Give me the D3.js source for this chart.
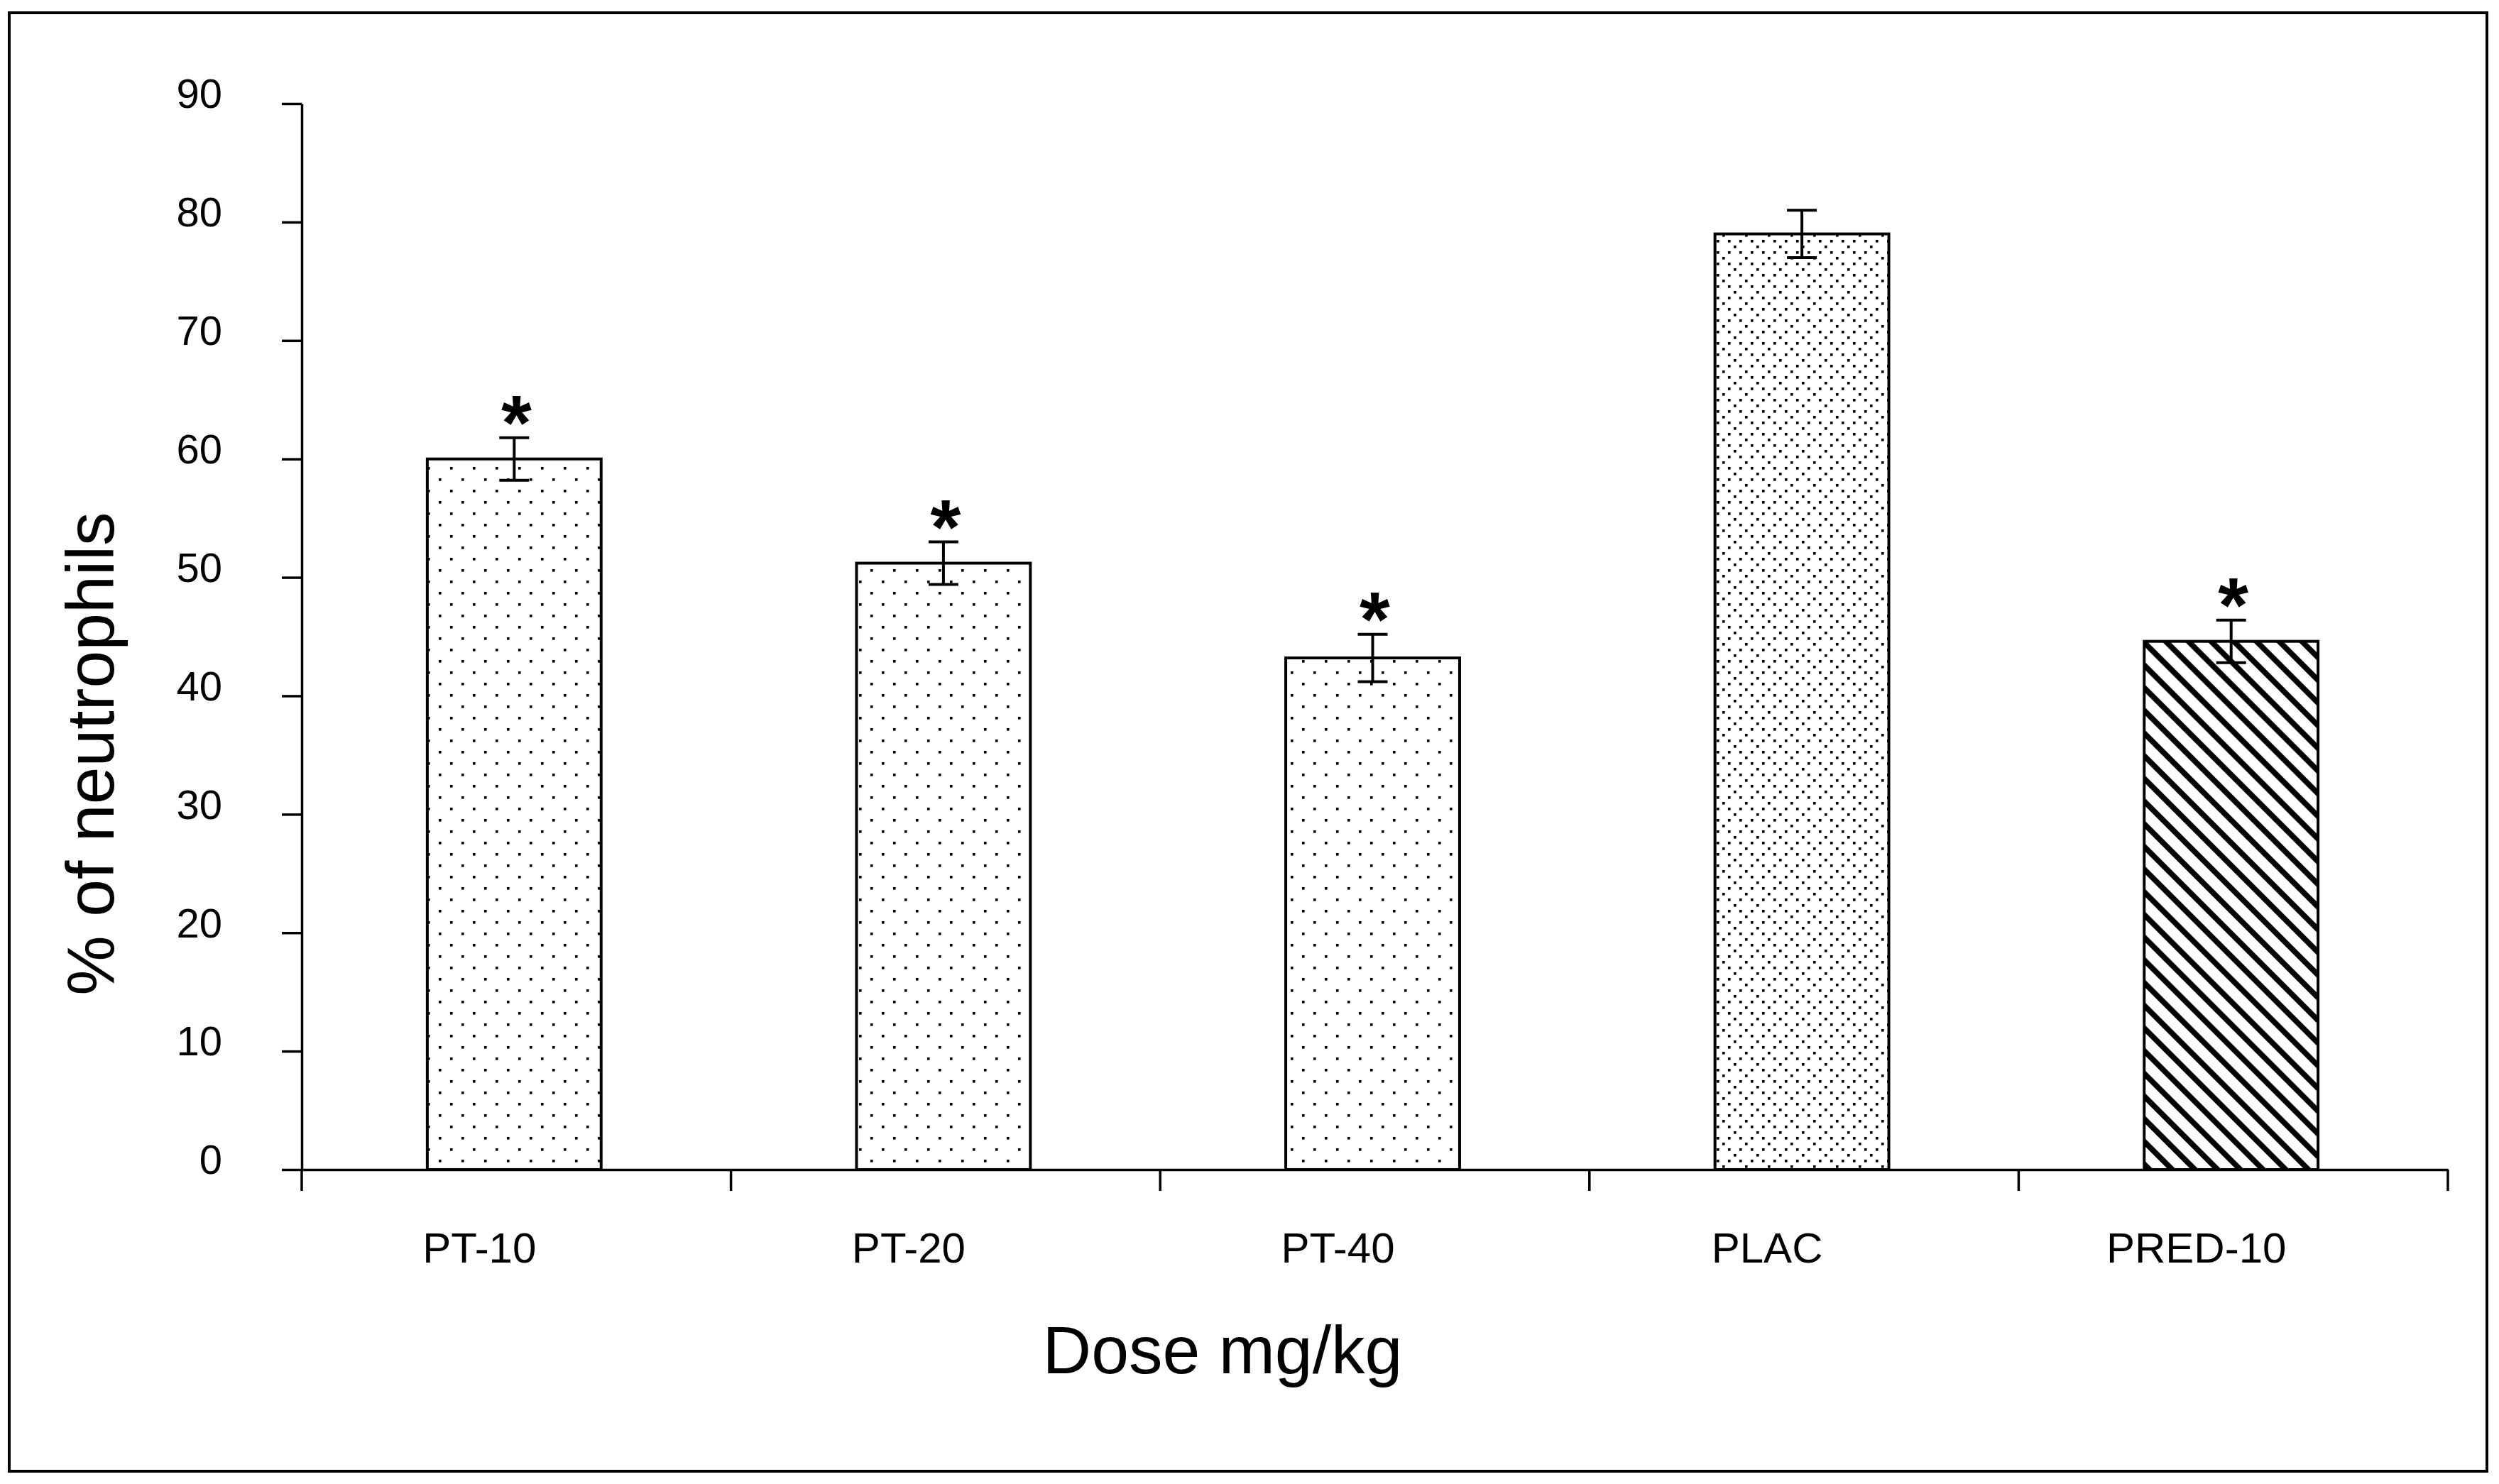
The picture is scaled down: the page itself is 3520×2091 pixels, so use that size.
<!DOCTYPE html>
<html>
<head>
<meta charset="utf-8">
<script src="https://cdn.jsdelivr.net/npm/d3@7"></script>
<style>
  body { margin: 0; background: #fff; }
  text { font-family: "Liberation Sans", Arial, sans-serif; fill: #000; }
</style>
</head>
<body>
<div id="chart"></div>
<script>
// data
let groups = ['PT-10', 'PT-20', 'PT-40', 'PLAC', 'PRED-10']
let means = [60.0, 51.2, 43.2, 79.0, 44.6]
let sems = [1.8, 1.8, 2.0, 2.0, 1.8]
let significant = [true, true, true, false, true]
let yTicks = [0, 10, 20, 30, 40, 50, 60, 70, 80, 90]

let width = 3520
let height = 2091
let margin = { top: 146, left: 425, right: 72, bottom: 443 }

// fill pattern for each group
let fillFor = {
  'PT-10': 'url(#dots)',
  'PT-20': 'url(#dots)',
  'PT-40': 'url(#dots)',
  PLAC: 'url(#dense)',
  'PRED-10': 'url(#hatch)'
}

let svg = d3
  .select('#chart')
  .append('svg')
  .attr('width', width)
  .attr('height', height)

let defs = svg.append('defs')

let dots = defs
  .append('pattern')
  .attr('id', 'dots')
  .attr('patternUnits', 'userSpaceOnUse')
  .attr('width', 32)
  .attr('height', 32)
dots.append('rect').attr('width', 32).attr('height', 32).attr('fill', '#fff')
dots.selectAll('.d')
  .data([[10, 2], [26, 18]])
  .enter()
  .append('rect')
  .attr('x', d => d[0])
  .attr('y', d => d[1])
  .attr('width', 3.6)
  .attr('height', 3.6)
  .attr('fill', '#000')

let dense = defs
  .append('pattern')
  .attr('id', 'dense')
  .attr('patternUnits', 'userSpaceOnUse')
  .attr('width', 32)
  .attr('height', 32)
dense.append('rect').attr('width', 32).attr('height', 32).attr('fill', '#fff')
dense.selectAll('.d')
  .data([[2, 2], [18, 2], [2, 18], [18, 18], [26, 10], [10, 26]])
  .enter()
  .append('rect')
  .attr('x', d => d[0])
  .attr('y', d => d[1])
  .attr('width', 3.6)
  .attr('height', 3.6)
  .attr('fill', '#000')

let hatch = defs
  .append('pattern')
  .attr('id', 'hatch')
  .attr('patternUnits', 'userSpaceOnUse')
  .attr('width', 22.6)
  .attr('height', 22.6)
  .attr('patternTransform', 'rotate(-45)')
hatch.append('rect').attr('width', 22.6).attr('height', 22.6).attr('fill', '#fff')
hatch.append('rect').attr('x', 0).attr('width', 7.8).attr('height', 22.6).attr('fill', '#000')

// outer frame
svg
  .append('rect')
  .attr('x', 13)
  .attr('y', 18)
  .attr('width', 3490)
  .attr('height', 2055)
  .attr('fill', 'none')
  .attr('stroke', '#000')
  .attr('stroke-width', 4)

let x = d3
  .scaleBand()
  .domain(groups)
  .range([margin.left, width - margin.right])
  .padding(0)

let y = d3
  .scaleLinear()
  .domain([0, 90])
  .range([height - margin.bottom, margin.top])

let barWidth = x.bandwidth() * 0.405
let rows = groups.map((g, i) => ({ g, mean: means[i], sem: sems[i], sig: significant[i] }))

// bars
svg
  .selectAll('.bar')
  .data(rows)
  .enter()
  .append('rect')
  .attr('class', 'bar')
  .attr('x', d => x(d.g) + x.bandwidth() / 2 - barWidth / 2 - 3)
  .attr('y', d => y(d.mean))
  .attr('width', barWidth)
  .attr('height', d => y(0) - y(d.mean))
  .attr('fill', d => fillFor[d.g])
  .attr('stroke', '#000')
  .attr('stroke-width', 4)

// error bars
let err = svg.selectAll('.err').data(rows).enter().append('g').attr('class', 'err')
  .attr('stroke', '#000')
  .attr('stroke-width', 4)
err.append('line')
  .attr('x1', d => x(d.g) + x.bandwidth() / 2 - 3)
  .attr('x2', d => x(d.g) + x.bandwidth() / 2 - 3)
  .attr('y1', d => y(d.mean + d.sem))
  .attr('y2', d => y(d.mean - d.sem))
err.selectAll('.cap')
  .data(d => [d.mean + d.sem, d.mean - d.sem].map(v => ({ g: d.g, v })))
  .enter()
  .append('line')
  .attr('x1', d => x(d.g) + x.bandwidth() / 2 - 24)
  .attr('x2', d => x(d.g) + x.bandwidth() / 2 + 18)
  .attr('y1', d => y(d.v))
  .attr('y2', d => y(d.v))

// significance stars
svg
  .selectAll('.star')
  .data(rows.filter(d => d.sig))
  .enter()
  .append('text')
  .attr('class', 'star')
  .attr('x', d => x(d.g) + x.bandwidth() / 2)
  .attr('y', d => y(d.mean + d.sem) - 45)
  .attr('dy', '0.56em')
  .attr('text-anchor', 'middle')
  .attr('font-weight', 'bold')
  .attr('font-size', 110)
  .text('*')

// y axis
let yAxis = svg
  .append('g')
  .attr('transform', `translate(${margin.left},0)`)
  .call(
    d3.axisLeft(y)
      .tickValues(yTicks)
      .tickSize(28)
      .tickPadding(84)
      .tickSizeOuter(0)
  )
yAxis.selectAll('path, line').attr('stroke', '#000').attr('stroke-width', 3.5)
yAxis.selectAll('text')
  .attr('dy', '0.1em')
  .attr('font-size', 58)
  .attr('font-family', '"Liberation Sans", Arial, sans-serif')

// x axis
let xAxis = svg
  .append('g')
  .attr('transform', `translate(0,${y(0)})`)
  .call(
    d3.axisBottom(x)
      .tickSize(0)
      .tickPadding(88)
      .tickSizeOuter(0)
  )
xAxis.select('.domain').attr('stroke', '#000').attr('stroke-width', 3.5)
xAxis.selectAll('text')
  .attr('dx', -52)
  .attr('font-size', 60)
  .attr('font-family', '"Liberation Sans", Arial, sans-serif')

// tick marks between the groups
let bounds = groups.map(g => x(g)).concat([x.range()[1]])
xAxis
  .selectAll('.bound')
  .data(bounds)
  .enter()
  .append('line')
  .attr('class', 'bound')
  .attr('x1', d => d)
  .attr('x2', d => d)
  .attr('y1', 0)
  .attr('y2', 30)
  .attr('stroke', '#000')
  .attr('stroke-width', 3.5)

// axis titles
svg
  .append('text')
  .attr('x', 1722)
  .attr('y', 1935)
  .attr('text-anchor', 'middle')
  .attr('font-size', 95)
  .text('Dose mg/kg')

svg
  .append('text')
  .attr('transform', 'translate(160,1062) rotate(-90)')
  .attr('text-anchor', 'middle')
  .attr('font-size', 95)
  .text('% of neutrophils')
</script>
</body>
</html>
